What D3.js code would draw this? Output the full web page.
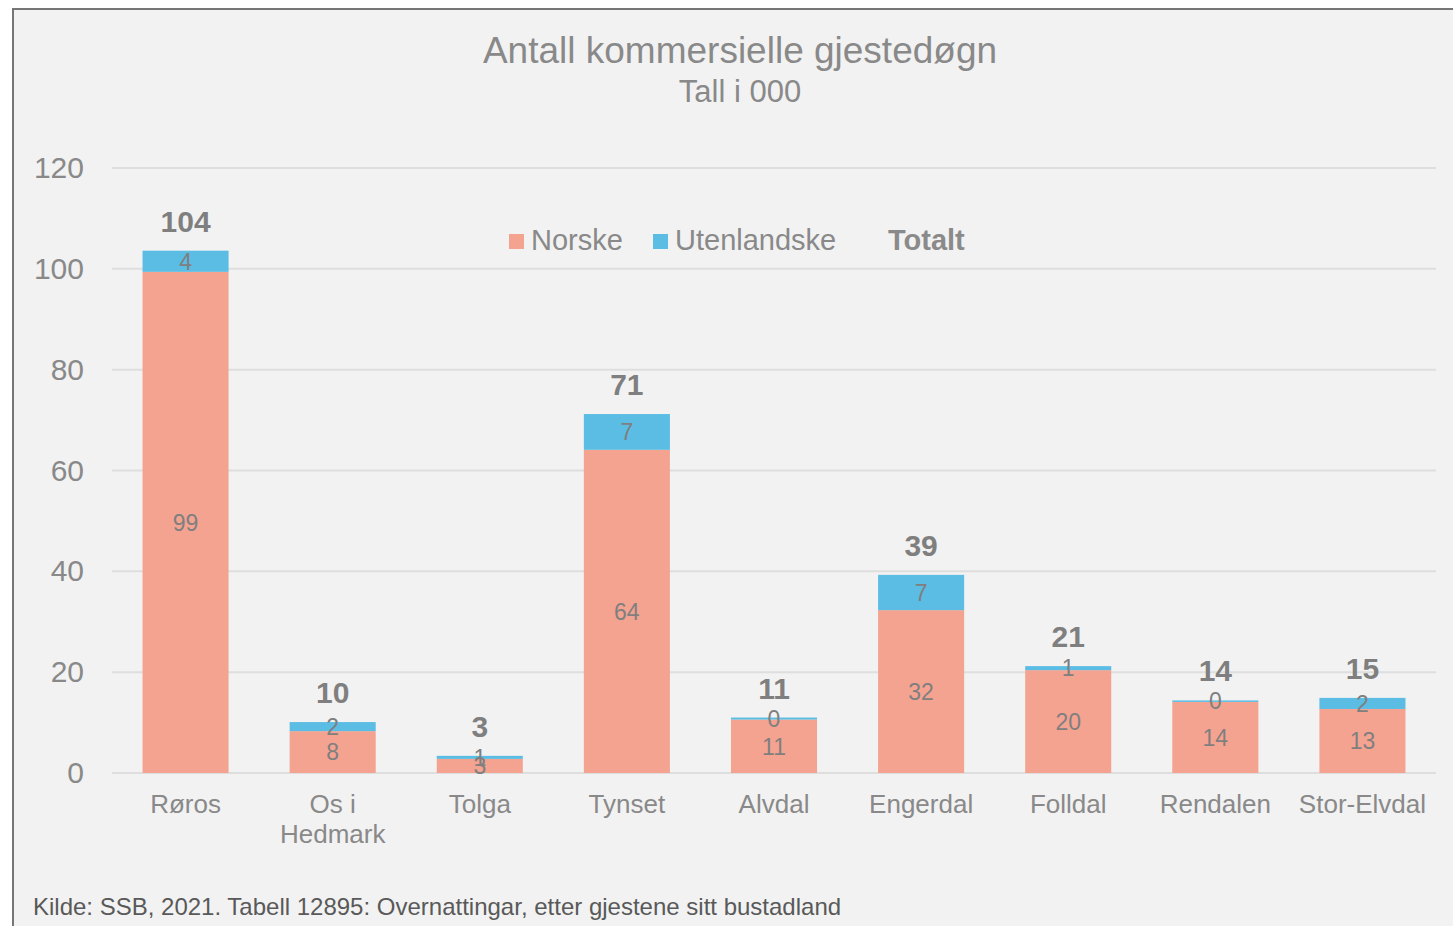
<!DOCTYPE html>
<html>
<head>
<meta charset="utf-8">
<script src="https://cdn.jsdelivr.net/npm/d3@7"></script>
<style>
  html, body { margin: 0; padding: 0; background: #ffffff; }
  svg { display: block; font-family: "Liberation Sans", Arial, sans-serif; }
</style>
</head>
<body>
<svg id="chart" width="1453" height="926"></svg>
<script>
// ---- Data ----
const categories = ["Røros", "Os i Hedmark", "Tolga", "Tynset", "Alvdal", "Engerdal", "Folldal", "Rendalen", "Stor-Elvdal"];
const norske = [99.4, 8.3, 2.8, 64.1, 10.6, 32.3, 20.4, 14.1, 12.7];
const utenlandske = [4.2, 1.8, 0.6, 7.1, 0.4, 7.0, 0.8, 0.3, 2.2];
const yTicks = [0, 20, 40, 60, 80, 100, 120];
const seriesNames = ["Norske", "Utenlandske"];
const totalName = "Totalt";
const titleText = "Antall kommersielle gjestedøgn";
const subtitleText = "Tall i 000";
const sourceText = "Kilde: SSB, 2021. Tabell 12895: Overnattingar, etter gjestene sitt bustadland";

// ---- Styles ----
const colors = { Norske: "#f5a391", Utenlandske: "#5bbde3" };
const textGrey = "#898989";
const labelGrey = "#7f7f7f";

const svg = d3.select("#chart");

// background + frame
svg.append("rect").attr("x", 0).attr("y", 0).attr("width", 1453).attr("height", 926).attr("fill", "#ffffff");
svg.append("rect")
  .attr("x", 13).attr("y", 9).attr("width", 1460).attr("height", 940)
  .attr("fill", "#f2f2f2").attr("stroke", "#767676").attr("stroke-width", 2);

// scales
const x = d3.scaleBand().domain(categories).range([112, 1436]).paddingInner(0.415).paddingOuter(0.2075);
const y = d3.scaleLinear().domain([0, 120]).range([773, 168]);

// gridlines
svg.append("g").selectAll("line").data(yTicks).join("line")
  .attr("x1", 112).attr("x2", 1436)
  .attr("y1", d => y(d)).attr("y2", d => y(d))
  .attr("stroke", "#dedede").attr("stroke-width", 2);

// y axis
const yAxis = svg.append("g").attr("transform", "translate(84,0)")
  .call(d3.axisLeft(y).tickValues(yTicks).tickSize(0).tickPadding(0).tickFormat(d3.format("d")));
yAxis.select(".domain").remove();
yAxis.selectAll("text").attr("fill", textGrey).style("font-size", "30px").style("font-family", "Liberation Sans, Arial, sans-serif");

// stacked data
const rows = categories.map((c, i) => ({ cat: c, Norske: norske[i], Utenlandske: utenlandske[i] }));
const stack = d3.stack().keys(seriesNames)(rows);

const fmt = d3.format(".0f");

const layers = svg.append("g").selectAll("g").data(stack).join("g")
  .attr("fill", d => colors[d.key]);
layers.selectAll("rect").data(d => d).join("rect")
  .attr("x", d => x(d.data.cat))
  .attr("width", x.bandwidth())
  .attr("y", d => y(d[1]))
  .attr("height", d => y(d[0]) - y(d[1]));

// segment labels
const segLabels = svg.append("g");
stack.forEach(layer => {
  segLabels.selectAll(null).data(layer).join("text")
    .attr("x", d => x(d.data.cat) + x.bandwidth() / 2)
    .attr("y", d => (y(d[0]) + y(d[1])) / 2)
    .attr("dy", "0.36em")
    .attr("text-anchor", "middle")
    .attr("fill", labelGrey)
    .style("font-size", "23px")
    .text(d => fmt(d[1] - d[0]));
});

// totals
const totals = rows.map(r => ({ cat: r.cat, total: r.Norske + r.Utenlandske }));
svg.append("g").selectAll("text").data(totals).join("text")
  .attr("x", d => x(d.cat) + x.bandwidth() / 2)
  .attr("y", d => y(d.total) - 19)
  .attr("text-anchor", "middle")
  .attr("fill", labelGrey)
  .style("font-size", "30px").style("font-weight", "bold")
  .text(d => fmt(d.total));

// x axis
const xAxis = svg.append("g").attr("transform", "translate(0,773)")
  .call(d3.axisBottom(x).tickSize(0).tickPadding(0));
xAxis.select(".domain").remove();
xAxis.selectAll("text")
  .attr("fill", textGrey).style("font-size", "26px").style("font-family", "Liberation Sans, Arial, sans-serif")
  .attr("dy", null).attr("y", 40)
  .each(function(d) {
    const t = d3.select(this);
    if (this.getComputedTextLength() > x.step()) {
      const words = d.split(" ");
      const line2 = words.pop();
      const line1 = words.join(" ");
      t.text(null);
      t.append("tspan").attr("x", 0).attr("y", 40).text(line1);
      t.append("tspan").attr("x", 0).attr("y", 70).text(line2);
    }
  });

// title
svg.append("text").attr("x", 740).attr("y", 63).attr("text-anchor", "middle")
  .attr("fill", textGrey).style("font-size", "37px").text(titleText);
svg.append("text").attr("x", 740).attr("y", 102).attr("text-anchor", "middle")
  .attr("fill", textGrey).style("font-size", "31px").text(subtitleText);

// legend
const legend = svg.append("g");
const legendItems = [
  { name: seriesNames[0], sx: 509, tx: 531 },
  { name: seriesNames[1], sx: 653, tx: 675 }
];
legendItems.forEach(it => {
  legend.append("rect").attr("x", it.sx).attr("y", 234).attr("width", 15).attr("height", 15).attr("fill", colors[it.name]);
  legend.append("text").attr("x", it.tx).attr("y", 250).attr("fill", textGrey).style("font-size", "29px").text(it.name);
});
legend.append("text").attr("x", 888).attr("y", 250).attr("fill", "#8a8a8a")
  .style("font-size", "29px").style("font-weight", "bold").text(totalName);

// source
svg.append("text").attr("x", 33).attr("y", 915).attr("fill", "#595959")
  .style("font-size", "24px").text(sourceText);
</script>
</body>
</html>
